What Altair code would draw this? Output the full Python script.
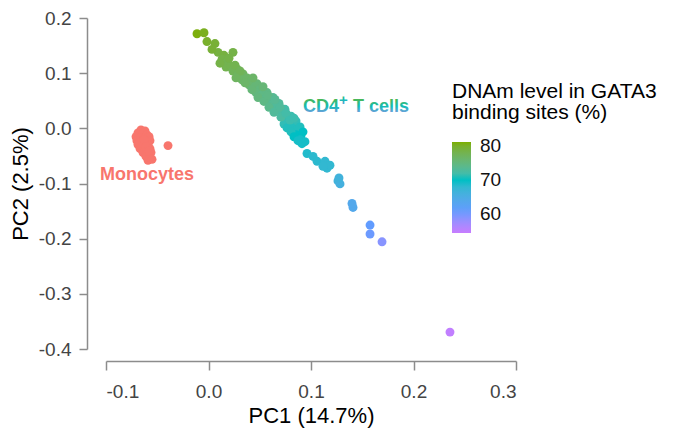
import altair as alt
import pandas as pd

# Monocytes (PC1, PC2)
mono_x = [-0.0659, -0.0620, -0.0688, -0.0639, -0.0600, -0.0707, -0.0668, -0.0620,
          -0.0580, -0.0698, -0.0649, -0.0600, -0.0571, -0.0688, -0.0639, -0.0590,
          -0.0668, -0.0620, -0.0571, -0.0639, -0.0600, -0.0561, -0.0610, -0.0571,
          -0.0590, -0.0551, -0.0678, -0.0629, -0.0610, -0.0580, -0.0395]
mono_y = [-0.0028, -0.0046, -0.0082, -0.0100, -0.0117, -0.0153, -0.0171, -0.0171,
          -0.0153, -0.0224, -0.0242, -0.0242, -0.0224, -0.0295, -0.0313, -0.0295,
          -0.0367, -0.0384, -0.0367, -0.0438, -0.0456, -0.0438, -0.0509, -0.0527,
          -0.0580, -0.0562, -0.0260, -0.0206, -0.0331, -0.0402, -0.0313]

# CD4+ T cells (PC1, PC2, DNAm level in GATA3 binding sites %)
cd4_x = [-0.0112, -0.0044, -0.0015, 0.0063, 0.0093, 0.0151, 0.0239, 0.0132, 0.0180, 0.0171,
         0.0220, 0.0239, 0.0278, 0.0288, 0.0337, 0.0327, 0.0376, 0.0415, 0.0395, 0.0454,
         0.0473, 0.0502, 0.0463, 0.0522, 0.0571, 0.0561, 0.0600, 0.0629, 0.0620, 0.0659,
         0.0688, 0.0678, 0.0717, 0.0746, 0.0737, 0.0776, 0.0805, 0.0785, 0.0824, 0.0854,
         0.0815, 0.0863, 0.0893, 0.0854, 0.0902, 0.0922, 0.0893, 0.0941, 0.0912, 0.0737,
         0.0766, 0.0805, 0.0834, 0.0873, 0.0034, 0.0112, 0.0200, 0.0259, 0.0307, 0.0268,
         0.0356, 0.0434, 0.0424, 0.0532, 0.0483, 0.0541, 0.0580, 0.0590, 0.0649, 0.0639,
         0.0698, 0.0707, 0.0756, 0.0795, 0.0834, 0.0961, 0.1020, 0.1059, 0.1137, 0.1156,
         0.1185, 0.1117, 0.1263, 0.1283, 0.1273, 0.1410, 0.1400, 0.1576, 0.1576, 0.1693,
         0.2356]
cd4_y = [0.1715, 0.1733, 0.1573, 0.1537, 0.1377, 0.1324, 0.1377, 0.1253, 0.1199, 0.1110,
         0.1128, 0.1039, 0.1075, 0.0968, 0.0986, 0.0879, 0.0915, 0.0843, 0.0790, 0.0754,
         0.0808, 0.0701, 0.0648, 0.0612, 0.0648, 0.0541, 0.0505, 0.0559, 0.0434, 0.0399,
         0.0452, 0.0327, 0.0292, 0.0345, 0.0221, 0.0185, 0.0221, 0.0114, 0.0078, 0.0132,
         0.0007, -0.0028, 0.0025, -0.0117, -0.0135, -0.0064, -0.0206, -0.0242, -0.0278, 0.0078,
         0.0007, -0.0064, -0.0153, -0.0224, 0.1431, 0.1181, 0.1270, 0.1146, 0.1039, 0.0915,
         0.0826, 0.0915, 0.0701, 0.0754, 0.0559, 0.0488, 0.0594, 0.0381, 0.0523, 0.0292,
         0.0381, 0.0203, 0.0274, 0.0149, 0.0185, -0.0456, -0.0509, -0.0598, -0.0598, -0.0722,
         -0.0669, -0.0687, -0.0954, -0.1007, -0.0900, -0.1434, -0.1363, -0.1754, -0.1915, -0.2057,
         -0.3694]
cd4_dnam = [81.0, 80.5, 80.0, 79.5, 79.0, 79.0, 78.5, 78.5, 78.0, 78.0,
            78.0, 77.5, 77.5, 77.0, 77.0, 76.5, 76.5, 76.0, 76.0, 75.5,
            75.5, 75.0, 75.0, 74.5, 74.5, 74.0, 74.0, 73.5, 73.5, 73.0,
            73.0, 72.5, 72.5, 72.0, 72.0, 71.5, 71.5, 71.0, 71.0, 71.0,
            70.5, 70.5, 70.5, 70.0, 70.0, 70.0, 69.5, 69.5, 69.5, 71.0,
            70.5, 70.5, 70.0, 69.5, 79.5, 78.5, 78.5, 78.0, 77.5, 77.0,
            76.5, 76.5, 75.5, 75.5, 75.0, 74.5, 74.5, 74.0, 73.5, 73.0,
            73.0, 72.5, 72.0, 71.5, 71.5, 69.0, 68.5, 68.5, 68.0, 68.0,
            68.0, 68.0, 66.5, 66.0, 66.5, 64.0, 64.0, 61.0, 60.5, 59.0,
            55.0]

color_domain = [54.5, 61.0, 70.0, 81.2]
color_range = ["#C77CFF", "#619CFF", "#00BFC4", "#7CAE00"]
x_ticks = [-0.1, 0.0, 0.1, 0.2, 0.3]
y_ticks = [-0.4, -0.3, -0.2, -0.1, 0.0, 0.1, 0.2]

mono = pd.DataFrame({"PC1": mono_x, "PC2": mono_y})
cd4 = pd.DataFrame({"PC1": cd4_x, "PC2": cd4_y, "DNAm": cd4_dnam})

FONT = "Liberation Sans"
label_expr = "replace(format(datum.value, '.1f'), '\u2212', '-')"

xscale = alt.Scale(domain=[-0.1, 0.3], nice=False, zero=False)
yscale = alt.Scale(domain=[-0.4, 0.2], nice=False, zero=False)

xaxis = alt.Axis(values=x_ticks, labelExpr=label_expr, offset=12, tickSize=9,
                 labelPadding=12, titlePadding=4, grid=False)
yaxis = alt.Axis(values=y_ticks, labelExpr=label_expr, offset=19, tickSize=8,
                 labelPadding=8, titlePadding=6, grid=False)

PT = 80

mono_layer = alt.Chart(mono).mark_circle(size=PT, opacity=1, color="#F8766D").encode(
    x=alt.X("PC1:Q", scale=xscale, axis=xaxis, title="PC1 (14.7%)"),
    y=alt.Y("PC2:Q", scale=yscale, axis=yaxis, title="PC2 (2.5%)"),
)

cd4_layer = alt.Chart(cd4).mark_circle(size=PT, opacity=1).encode(
    x="PC1:Q",
    y="PC2:Q",
    color=alt.Color(
        "DNAm:Q",
        scale=alt.Scale(domain=color_domain, range=color_range, interpolate="lab"),
        legend=alt.Legend(
            title=["DNAm level in GATA3", "binding sites (%)"],
            orient="none", legendX=346, legendY=63, direction="vertical",
            values=[60, 70, 80], gradientLength=91, gradientThickness=19,
            gradientStrokeWidth=0, labelOffset=9, titlePadding=19,
            titleFontSize=21, titleFontWeight="normal", titleColor="#000000",
            titleFont=FONT, titleLineHeight=21, titleLimit=400,
            labelFontSize=19, labelFont=FONT, labelColor="#111111",
        ),
    ),
)

mono_lab = pd.DataFrame({"PC1": [-0.0600], "PC2": [-0.0847], "t": ["Monocytes"]})
mono_text = alt.Chart(mono_lab).mark_text(
    font=FONT, fontSize=18, fontWeight="bold", color="#F8766D", align="center", baseline="middle"
).encode(x="PC1:Q", y="PC2:Q", text="t:N")

grad = alt.LinearGradient(
    gradient="linear", x1=0, y1=0, x2=0, y2=1,
    stops=[alt.GradientStop(color="#62B52E", offset=0),
           alt.GradientStop(color="#12BDB5", offset=0.5),
           alt.GradientStop(color="#A98BF5", offset=1)],
)
cd4_lab = pd.DataFrame({"PC1": [0.0922], "PC2": [0.0381]})
cd4_t1 = alt.Chart(cd4_lab).mark_text(
    text="CD4", font=FONT, fontSize=18, fontWeight="bold", color=grad, align="left", baseline="middle"
).encode(x="PC1:Q", y="PC2:Q")
cd4_t2 = alt.Chart(cd4_lab).mark_text(
    text="+", font=FONT, fontSize=15, fontWeight="bold", color=grad, align="left", baseline="middle",
    dx=36, dy=-7
).encode(x="PC1:Q", y="PC2:Q")
cd4_t3 = alt.Chart(cd4_lab).mark_text(
    text="T cells", font=FONT, fontSize=18, fontWeight="bold", color=grad, align="left", baseline="middle",
    dx=50
).encode(x="PC1:Q", y="PC2:Q")

chart = alt.layer(mono_layer, cd4_layer, mono_text, cd4_t1, cd4_t2, cd4_t3).properties(
    width=410, height=331,
    padding={"left": 98, "top": 10, "right": 150, "bottom": 79},
    autosize=alt.AutoSizeParams(type="none"),
).configure_view(stroke=None).configure_axis(
    domainColor="#8c8c8c", tickColor="#8c8c8c", domainWidth=1.5, tickWidth=1.5,
    labelFont=FONT, labelFontSize=19, labelColor="#444444",
    titleFont=FONT, titleFontSize=22, titleFontWeight="normal", titleColor="#000000",
)

chart.save("out.html", embed_options={"renderer": "svg", "actions": False})
